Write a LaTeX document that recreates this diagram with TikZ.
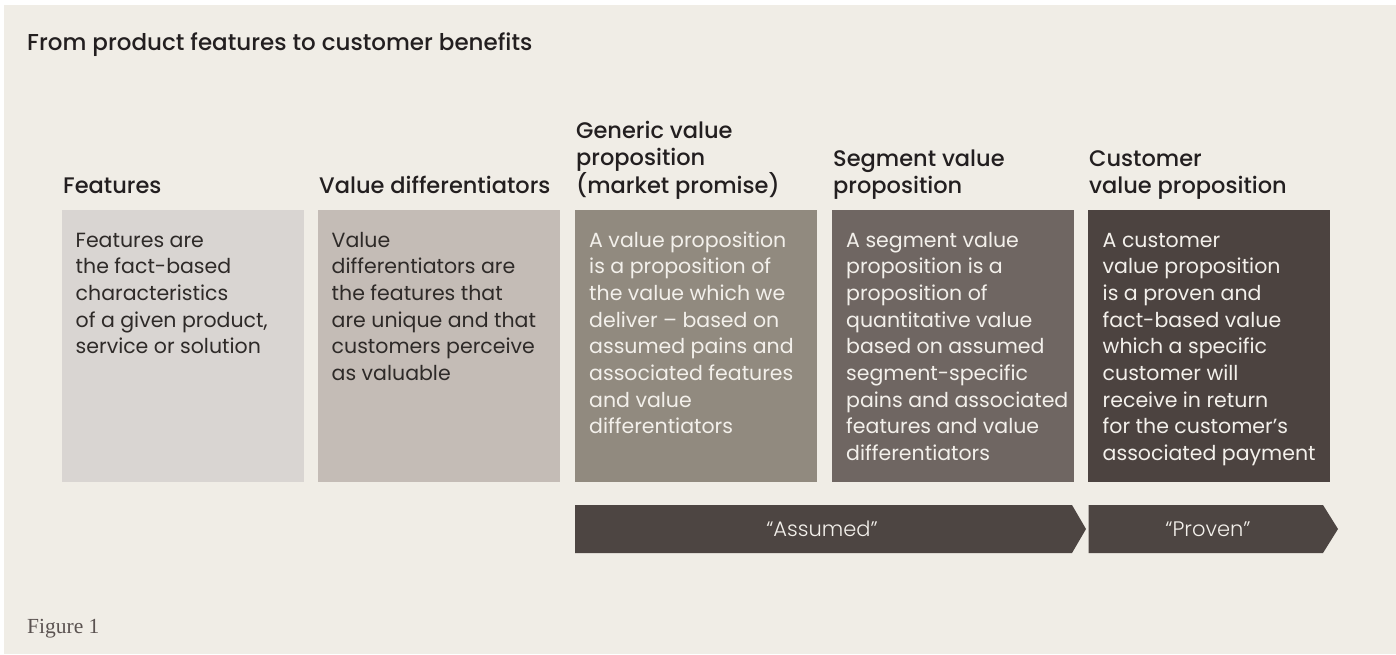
\documentclass[tikz,border=0pt]{standalone}
\usepackage{fontspec}
\setmainfont{Poppins}
\newfontfamily\bodyfont{Poppins}
\newfontfamily\lightfont{Poppins Light}
\newfontfamily\medfont{Poppins Medium}
\newfontfamily\figfont{Liberation Serif}
\definecolor{bg}{HTML}{F0EDE6}
\definecolor{cA}{HTML}{D9D5D2}
\definecolor{cB}{HTML}{C4BCB6}
\definecolor{cC}{HTML}{918A7F}
\definecolor{cD}{HTML}{6F6662}
\definecolor{cE}{HTML}{4C4340}
\definecolor{arr}{HTML}{4D4542}
\definecolor{headc}{HTML}{231F20}
\definecolor{darktext}{HTML}{2E2A28}
\definecolor{lighttext}{HTML}{F3F0EB}
\definecolor{figc}{HTML}{5B5351}
\begin{document}
\begin{tikzpicture}[x=1pt,y=-1pt,
  panel/.style={anchor=north west, minimum width=242pt, minimum height=272pt, inner sep=0pt, outer sep=0pt},
  bodytext/.style={anchor=base west, inner sep=0pt, font={\bodyfont\fontsize{20.5}{26.7}\selectfont}},
  headtext/.style={anchor=base west, inner sep=0pt, text=headc, font={\medfont\fontsize{22.5}{26.5}\selectfont}},
  arrowtext/.style={inner sep=0pt, text=lighttext, font={\lightfont\fontsize{21}{25}\selectfont}},
  arrowshape/.style={fill=arr}
]
\useasboundingbox (0,0) rectangle (1396,654);
\fill[white] (0,0) rectangle (1396,654);
\fill[bg] (4,5) rectangle (1396,654);

% title
\node[anchor=base west, inner sep=0pt, text=headc, font={\medfont\fontsize{23}{27}\selectfont}] (title) at (27,50) {From product features to customer benefits};

% headers
\node[headtext] (h1) at (63,193) {Features};
\node[headtext] (h2) at (319,193) {Value differentiators};
\node[headtext] (h3) at (576,193) {\vbox{\hbox{Generic value}\hbox{proposition}\hbox{(market promise)}}};
\node[headtext] (h4) at (833,193) {\vbox{\hbox{Segment value}\hbox{proposition}}};
\node[headtext] (h5) at (1089,193) {\vbox{\hbox{Customer}\hbox{value proposition}}};

% panels
\node[panel, fill=cA] (b1) at (62,210) {};
\node[panel, fill=cB] (b2) at (318,210) {};
\node[panel, fill=cC] (b3) at (575,210) {};
\node[panel, fill=cD] (b4) at (832,210) {};
\node[panel, fill=cE] (b5) at (1088,210) {};

% panel texts
\node[bodytext, text=darktext] (t1) at (75.5,247) {\vtop{\hbox{Features are}\hbox{the fact-based}\hbox{characteristics}\hbox{of a given product,}\hbox{service or solution}}};
\node[bodytext, text=darktext] (t2) at (331.5,247) {\vtop{\hbox{Value}\hbox{differentiators are}\hbox{the features that}\hbox{are unique and that}\hbox{customers perceive}\hbox{as valuable}}};
\node[bodytext, text=lighttext] (t3) at (589,247) {\vtop{\hbox{A value proposition}\hbox{is a proposition of}\hbox{the value which we}\hbox{deliver – based on}\hbox{assumed pains and}\hbox{associated features}\hbox{and value}\hbox{differentiators}}};
\node[bodytext, text=lighttext] (t4) at (846,247) {\vtop{\hbox{A segment value}\hbox{proposition is a}\hbox{proposition of}\hbox{quantitative value}\hbox{based on assumed}\hbox{segment-specific}\hbox{pains and associated}\hbox{features and value}\hbox{differentiators}}};
\node[bodytext, text=lighttext] (t5) at (1102.5,247) {\vtop{\hbox{A customer}\hbox{value proposition}\hbox{is a proven and}\hbox{fact-based value}\hbox{which a specific}\hbox{customer will}\hbox{receive in return}\hbox{for the customer’s}\hbox{associated payment}}};

% arrows
\fill[arrowshape] (575,505) -- (1072,505) -- (1086,529) -- (1072,553) -- (575,553) -- cycle;
\fill[arrowshape] (1088.5,505) -- (1323,505) -- (1338,529) -- (1323,553) -- (1088.5,553) -- cycle;
\node[arrowtext] (assumed) at (822,529) {“Assumed”};
\node[arrowtext] (proven) at (1208,529) {“Proven”};

% caption
\node[anchor=base west, inner sep=0pt, text=figc, font={\figfont\fontsize{21.5}{25}\selectfont}] (fig) at (27,633) {Figure 1};
\end{tikzpicture}
\end{document}
